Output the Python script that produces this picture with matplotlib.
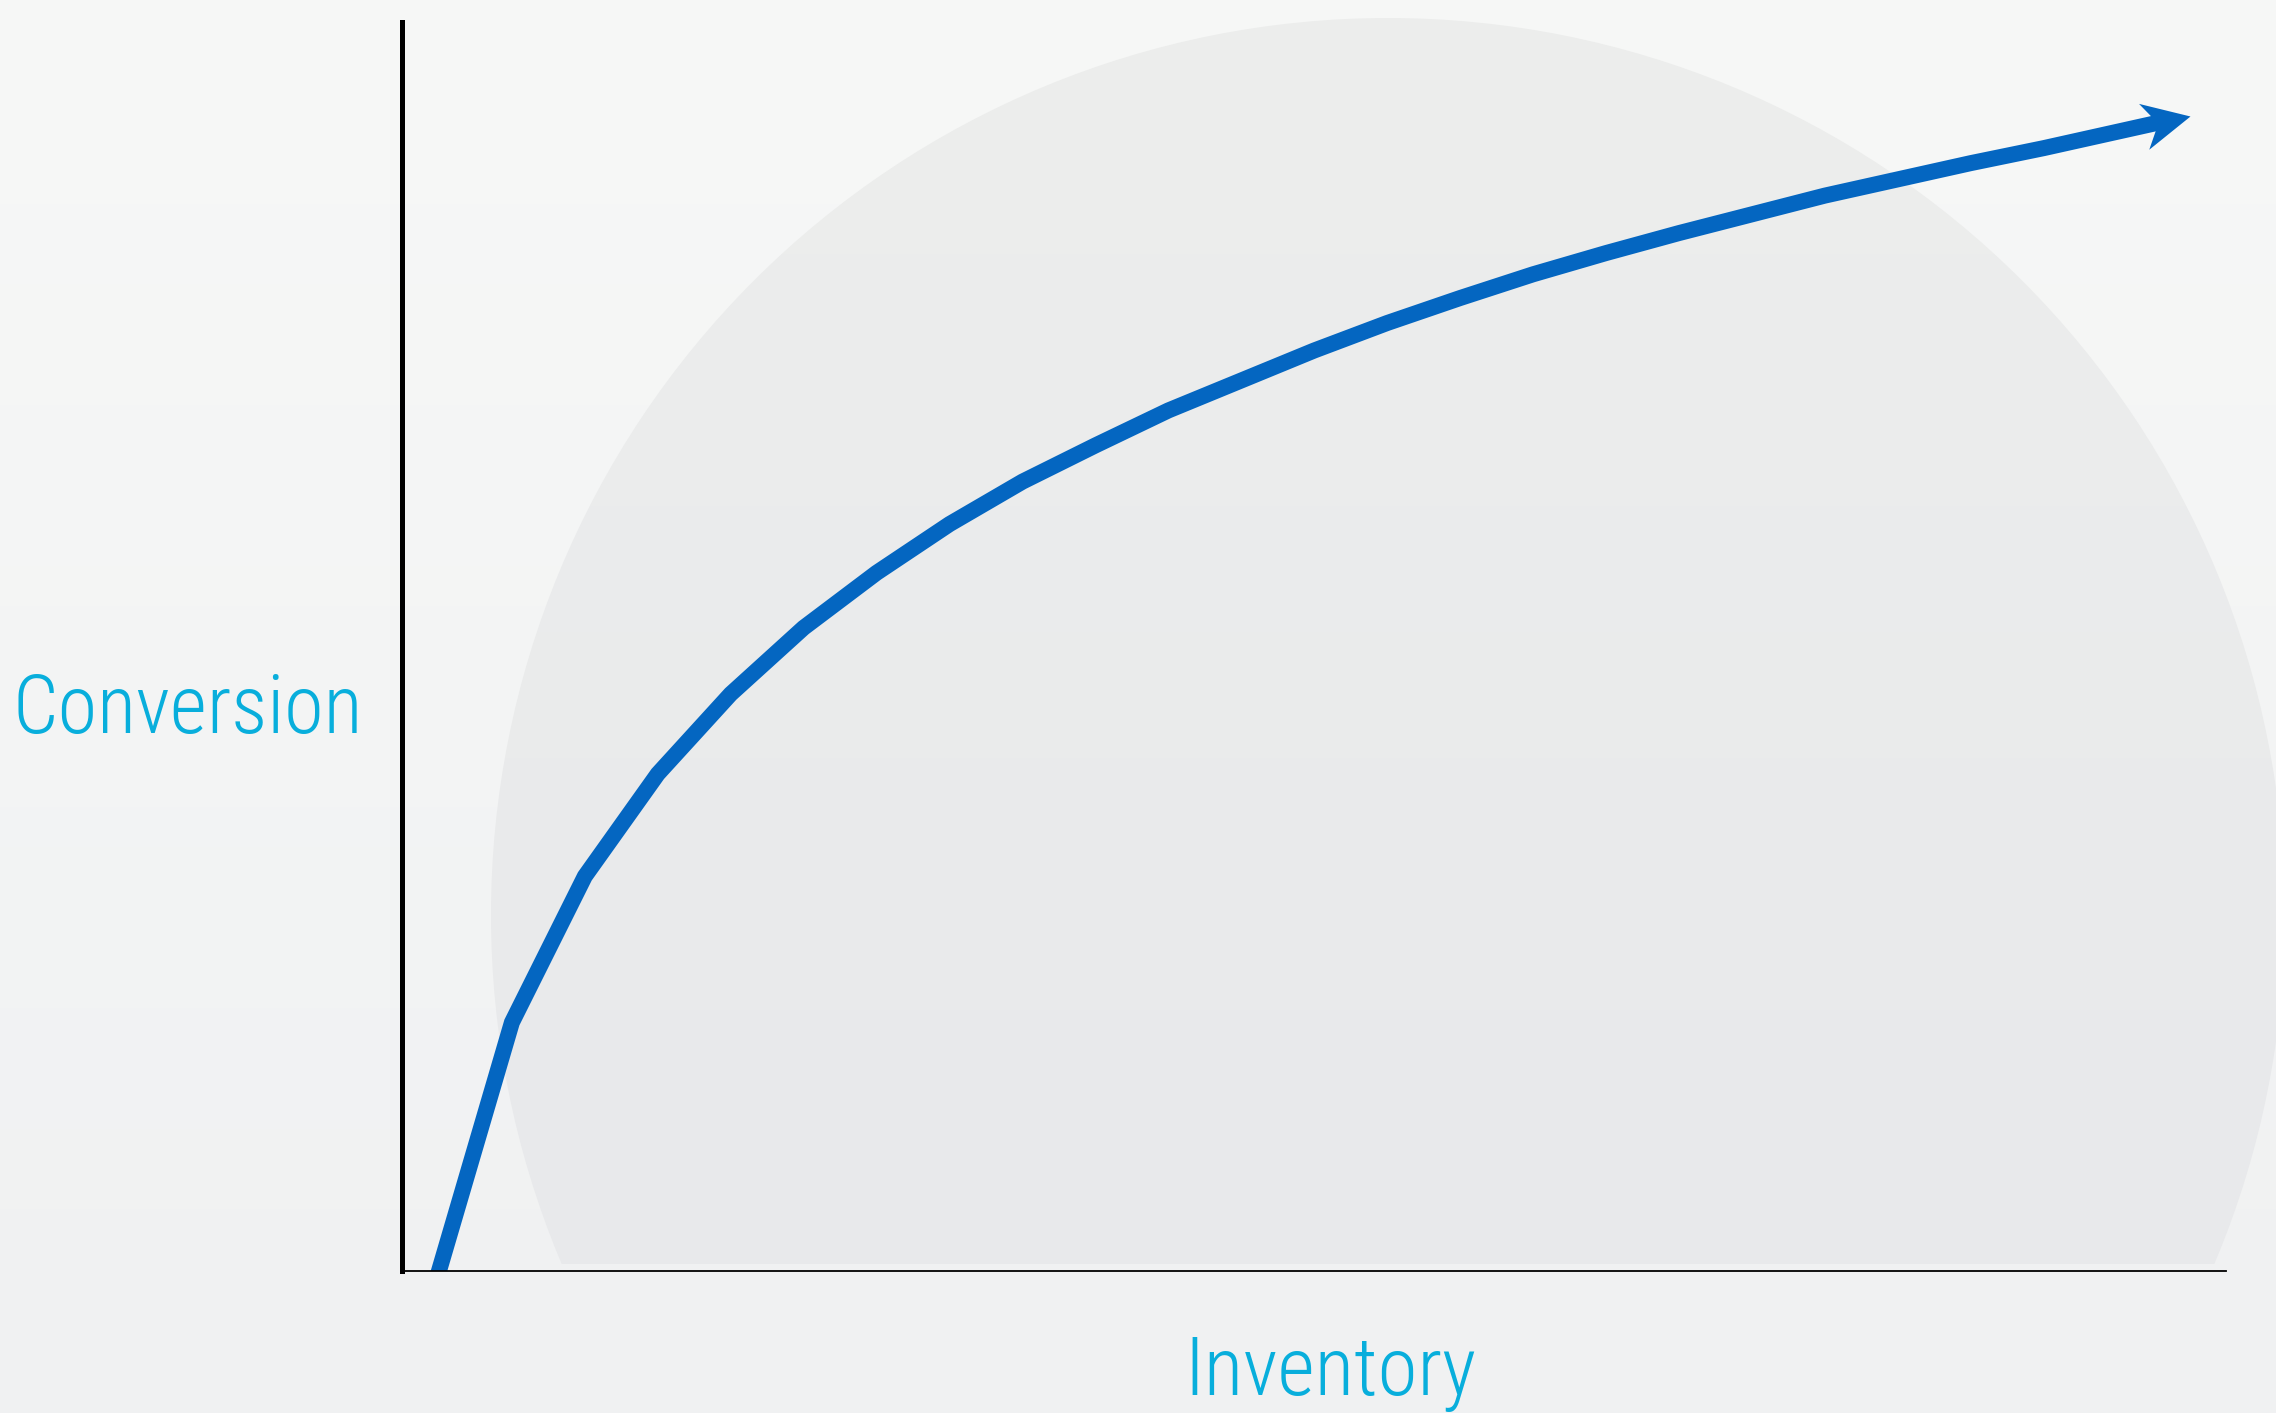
import numpy as np
import matplotlib
matplotlib.use("Agg")
import matplotlib.pyplot as plt
from matplotlib.patches import Circle
from matplotlib.markers import MarkerStyle
from matplotlib.path import Path
from matplotlib.transforms import Affine2D
from matplotlib import font_manager

# values, both axes on a 0-100 scale
inventory = [2, 6, 10, 14, 18, 22, 26, 30, 34, 38, 42, 46, 50, 54, 58, 62,
             66, 70, 74, 78, 82, 86, 90, 96, 98]
conversion = [0, 19.9, 31.6, 39.8, 46.2, 51.5, 55.9, 59.8, 63.2, 66.1, 68.9,
              71.3, 73.7, 75.9, 77.9, 79.8, 81.5, 83.1, 84.6, 86.1, 87.4,
              88.7, 89.9, 91.85, 92.5]
x_label = "Inventory"
y_label = "Conversion"

W, H, DPI = 2276, 1413, 100
LINE = "#0466c1"
TEXT = "#08aedc"


def pick_font():
    # a light condensed face is closest to the original lettering
    have = {(f.name, f.weight) for f in font_manager.fontManager.ttflist}
    for name, weight in [("Roboto Condensed", 300), ("IBM Plex Sans Condensed", 300),
                         ("Fira Sans Condensed", 300), ("Asap Condensed", 300),
                         ("Roboto Condensed", 400), ("Liberation Sans Narrow", 400)]:
        if (name, weight) in have:
            return name, weight
    return "DejaVu Sans", 400


def vgrad(top, bottom, n=256):
    t = np.linspace(0, 1, n)[:, None]
    top = np.array(top) / 255.0
    bottom = np.array(bottom) / 255.0
    return (top + (bottom - top) * t)[:, None, :]


fig = plt.figure(figsize=(W / DPI, H / DPI), dpi=DPI)

# background: soft vertical gradient plus a big pale disc
bg = fig.add_axes([0, 0, 1, 1], zorder=-1)
bg.axis("off")
bg.imshow(vgrad((247, 248, 247), (240, 241, 242)), extent=[0, W, H, 0],
          aspect="auto", interpolation="bicubic")
disc = Circle((1388, 915), 897, transform=bg.transData)
im = bg.imshow(vgrad((237, 238, 237), (232, 233, 235)), extent=[0, W, 1264, 0],
               aspect="auto", interpolation="bicubic")
im.set_clip_path(disc)
bg.set_xlim(0, W)
bg.set_ylim(H, 0)

# main axes
ax = fig.add_axes([402.5 / W, 1 - 1271 / H, (2226 - 402.5) / W, (1271 - 22) / H])
ax.set_facecolor("none")
ax.set_xlim(0, 100)
ax.set_ylim(0, 100)
for s in ["top", "right"]:
    ax.spines[s].set_visible(False)
ax.spines["left"].set_linewidth(3.6)
ax.spines["bottom"].set_linewidth(1.3)
ax.set_xticks([])
ax.set_yticks([])

# projecting cap tucks the shaft end under the head; the start is cut by the axes
ax.plot(inventory[:-1], conversion[:-1], color=LINE, lw=11.5,
        solid_joinstyle="miter", solid_capstyle="projecting")

# arrow head at the last point, turned along the last segment
p0, p1 = ax.transData.transform([(inventory[-2], conversion[-2]),
                                 (inventory[-1], conversion[-1])])
ang = np.degrees(np.arctan2(p1[1] - p0[1], p1[0] - p0[0]))
head = Path([(0, 0), (-47.5, 23.5), (-33, 0), (-47.5, -23.5), (0, 0)],
            [Path.MOVETO, Path.LINETO, Path.LINETO, Path.LINETO, Path.CLOSEPOLY])
mk = MarkerStyle(head, transform=Affine2D().rotate_deg(ang))
ax.plot([inventory[-1]], [conversion[-1]], marker=mk, ms=2 * 47.5 * 72 / DPI,
        color=LINE, mew=0, ls="none")

font, weight = pick_font()
fig.text(12, 733, y_label, transform=bg.transData, ha="left", va="baseline",
         fontsize=58, color=TEXT, family=font, weight=weight)
fig.text(1184, 1395, x_label, transform=bg.transData, ha="left", va="baseline",
         fontsize=58.5, color=TEXT, family=font, weight=weight)

fig.savefig("out.png", dpi=DPI)
